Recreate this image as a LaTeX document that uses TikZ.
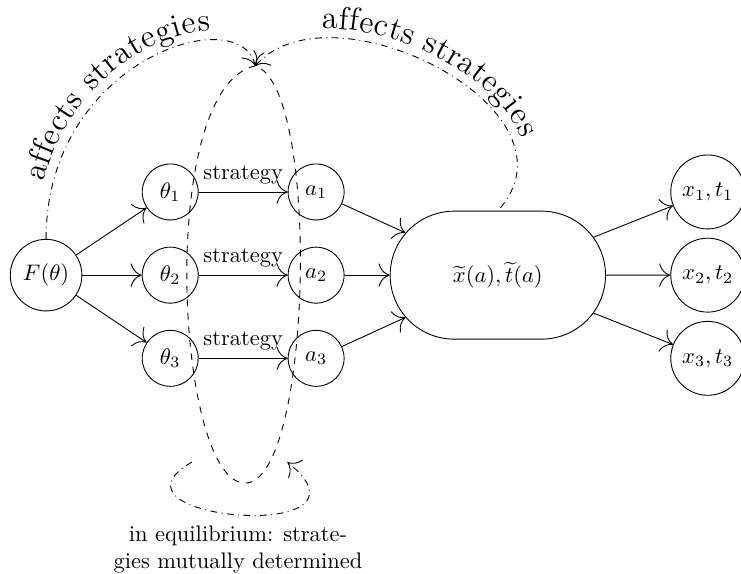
\documentclass[tikz,border=0pt]{standalone}
\usepackage{amsmath}
\usepackage{amssymb}
\usetikzlibrary{arrows,calc,shapes.misc,decorations.text,arrows.meta}

\begin{document}
\begin{tikzpicture}[
        >={To[scale=2]},
        circ/.style={draw,circle,minimum size=0.875cm},
        pill/.style={draw,rounded rectangle,minimum height=2cm,minimum width=3.6cm},
        affects/.style={dash dot,postaction={decorate,decoration={text along path,text={|\Large|affects strategies},text align=center,raise=4pt}}}
    ]
        \useasboundingbox (-0.72,-4.66) rectangle (10.86,4.30);
        \node (F) at (0,0) [circ] {$F(\theta)$};
        \node (t1) at (1.94,1.3) [circ] {$\theta_1$};
        \node (t2) at (1.94,0) [circ] {$\theta_2$};
        \node (t3) at (1.94,-1.3) [circ] {$\theta_3$};
        \node (a1) at (4.22,1.3) [circ] {$a_1$};
        \node (a2) at (4.22,0) [circ] {$a_2$};
        \node (a3) at (4.22,-1.3) [circ] {$a_3$};
        \node (big) at (7.06,0) [pill] {$\widetilde{x}(a),\widetilde{t}(a)$};
        \node (x1) at (10.34,1.3) [circ] {$x_1,t_1$};
        \node (x2) at (10.34,0) [circ] {$x_2,t_2$};
        \node (x3) at (10.34,-1.3) [circ] {$x_3,t_3$};
        \coordinate (top) at (3.27,3.27);
        \coordinate (bot) at (3.11,-3.25);
        \coordinate (eqL) at (2.28,-2.92);
        \coordinate (eqR) at (3.77,-2.92);
        \begin{scope}[->]
            \draw (F) -- (t1);
            \draw (F) -- (t2);
            \draw (F) -- (t3);
            \draw (t1) -- node[above] {strategy} (a1);
            \draw (t2) -- node[above] {strategy} (a2);
            \draw (t3) -- node[above] {strategy} (a3);
            \draw (a1) -- (big);
            \draw (a2) -- (big);
            \draw (a3) -- (big);
            \draw (big) -- (x1);
            \draw (big) -- (x2);
            \draw (big) -- (x3);
        \end{scope}
        \draw[dashed] (top) .. controls (1.72,2.95) and (2.02,-3.25) .. (bot)
            .. controls (4.16,-3.25) and (4.30,2.95) .. (top);
        \draw[->,affects] (F.north) .. controls (0,3.36) and (3.03,4.30) .. (top);
        \draw[<-,affects] (top) .. controls (4.44,4.61) and (8.50,2.58) .. (big.north);
        \draw[->,dash dot] (eqL) .. controls (0.69,-3.83) and (5.38,-4.22) .. (eqR);
        \node (eq) at (3.0,-4.29) [align=center] {in equilibrium: strate-\\gies mutually determined};
    \end{tikzpicture}
\end{document}
